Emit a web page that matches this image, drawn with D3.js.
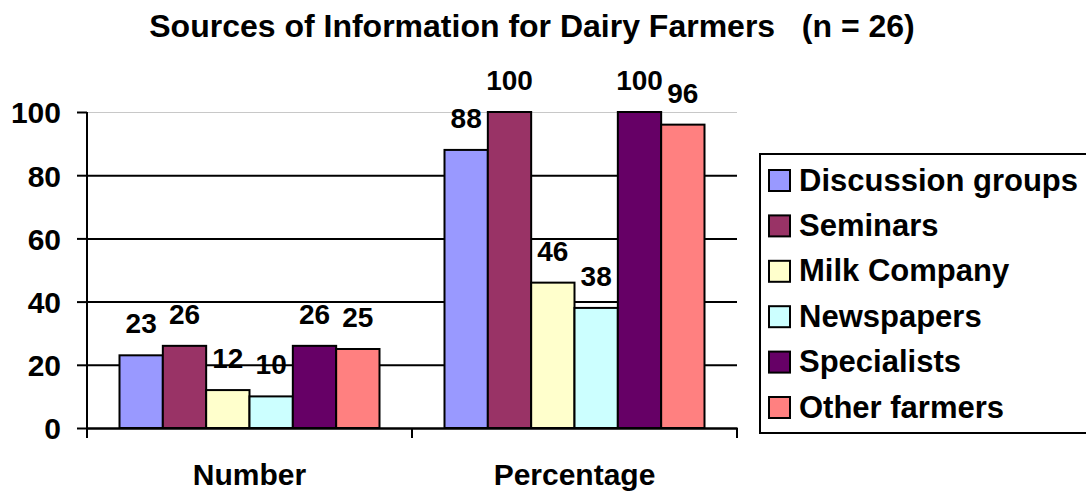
<!DOCTYPE html>
<html>
<head>
    <title>Sources of Information for Dairy Farmers</title>
    <style>
        body { margin: 0; background: #fff; }
        text { font-family: "Liberation Sans", Arial, sans-serif; font-weight: bold; fill: #000; }
    </style>
</head>
<body>
<svg id="chart" width="1086" height="496"></svg>

<script src="https://d3js.org/d3.v7.min.js"></script>
<script type="text/javascript">

const categories = ['Number', 'Percentage'];
const series = ['Discussion groups', 'Seminars', 'Milk Company', 'Newspapers', 'Specialists', 'Other farmers'];
const numberValues = [23, 26, 12, 10, 26, 25];
const percentValues = [88, 100, 46, 38, 100, 96];
const seriesColors = ['#9999ff', '#993366', '#ffffcc', '#ccffff', '#660066', '#ff8080'];
const yTicks = [0, 20, 40, 60, 80, 100];

const svg = d3.select('#chart');

const plotLeft = 87, plotRight = 737, plotTop = 112, plotBottom = 428;

let x0 = d3.scaleBand()
    .domain(categories)
    .range([plotLeft, plotRight]);

// excel style gap: 150% of one bar, split on both sides
const barW = x0.bandwidth() / (series.length + 1.5);
let x1 = d3.scaleBand()
    .domain(series)
    .range([barW * 0.75, x0.bandwidth() - barW * 0.75]);

let y = d3.scaleLinear()
    .domain([0, 100])
    .range([plotBottom, plotTop]);

let color = d3.scaleOrdinal()
    .domain(series)
    .range(seriesColors);

// title
svg.append('text')
    .attr('x', 532)
    .attr('y', 36.5)
    .attr('text-anchor', 'middle')
    .style('font-size', '32px')
    .text('Sources of Information for Dairy Farmers\u00a0\u00a0\u00a0(n = 26)');

// gridlines
svg.append('g')
    .attr('class', 'grid')
    .attr('transform', `translate(${plotLeft},0)`)
    .call(d3.axisLeft(y).tickValues(yTicks.slice(1)).tickSize(-(plotRight - plotLeft)).tickFormat(''))
    .call(g => g.select('.domain').remove())
    .call(g => g.selectAll('.tick line')
        .attr('stroke', d => d === 100 ? '#c8c8c8' : '#000')
        .attr('stroke-width', d => d === 100 ? 1 : 2));

// bars
const rows = categories.map((c, i) => ({
    category: c,
    values: series.map((s, j) => ({ key: s, value: (i === 0 ? numberValues : percentValues)[j] }))
}));

const groups = svg.append('g')
    .attr('class', 'bars')
    .selectAll('g')
    .data(rows)
    .join('g')
    .attr('transform', d => `translate(${x0(d.category)},0)`);

groups.selectAll('rect')
    .data(d => d.values)
    .join('rect')
    .attr('x', d => x1(d.key))
    .attr('y', d => y(d.value))
    .attr('width', x1.bandwidth())
    .attr('height', d => y(0) - y(d.value))
    .attr('fill', d => color(d.key))
    .attr('stroke', '#000')
    .attr('stroke-width', 2);

groups.selectAll('text')
    .data(d => d.values)
    .join('text')
    .attr('x', d => x1(d.key) + x1.bandwidth() / 2)
    .attr('y', d => y(d.value) - 22)
    .attr('text-anchor', 'middle')
    .style('font-size', '28px')
    .text(d => d.value);

// y axis
svg.append('g')
    .attr('class', 'y-axis')
    .attr('transform', `translate(${plotLeft},0)`)
    .call(d3.axisLeft(y).tickValues(yTicks).tickSize(10).tickPadding(16).tickSizeOuter(0))
    .call(g => g.select('.domain').attr('d', `M0,${plotTop}V${plotBottom + 10}`).attr('stroke-width', 2))
    .call(g => g.selectAll('.tick line').attr('stroke-width', 2))
    .call(g => g.selectAll('.tick text')
        .attr('dy', '0.36em')
        .style('font-size', '30px'));

// x axis
svg.append('g')
    .attr('class', 'x-axis')
    .attr('transform', `translate(0,${plotBottom})`)
    .call(d3.axisBottom(x0).tickSize(0).tickPadding(36).tickSizeOuter(0))
    .call(g => g.select('.domain').attr('stroke-width', 2.5))
    .call(g => g.selectAll('.tick text')
        .attr('dy', '0.71em')
        .style('font-size', '30px'))
    .call(g => g.selectAll('.bound')
        .data([plotLeft, ...categories.map(c => x0(c) + x0.bandwidth())])
        .join('line')
        .attr('class', 'bound')
        .attr('x1', d => d).attr('x2', d => d)
        .attr('y1', 0).attr('y2', 10)
        .attr('stroke', '#000')
        .attr('stroke-width', 2));

// legend
const legend = svg.append('g')
    .attr('class', 'legend')
    .attr('transform', 'translate(760,154)');

legend.append('rect')
    .attr('width', 340)
    .attr('height', 279)
    .attr('fill', '#fff')
    .attr('stroke', '#000')
    .attr('stroke-width', 2);

const item = legend.selectAll('.item')
    .data(series)
    .join('g')
    .attr('class', 'item')
    .attr('transform', (d, i) => `translate(0,${26 + i * 45.4})`);

item.append('rect')
    .attr('x', 9)
    .attr('y', -10)
    .attr('width', 21)
    .attr('height', 21)
    .attr('fill', d => color(d))
    .attr('stroke', '#000')
    .attr('stroke-width', 2);

item.append('text')
    .attr('x', 39)
    .attr('y', 10.5)
    .style('font-size', '31px')
    .text(d => d);

</script>
</body>
</html>
